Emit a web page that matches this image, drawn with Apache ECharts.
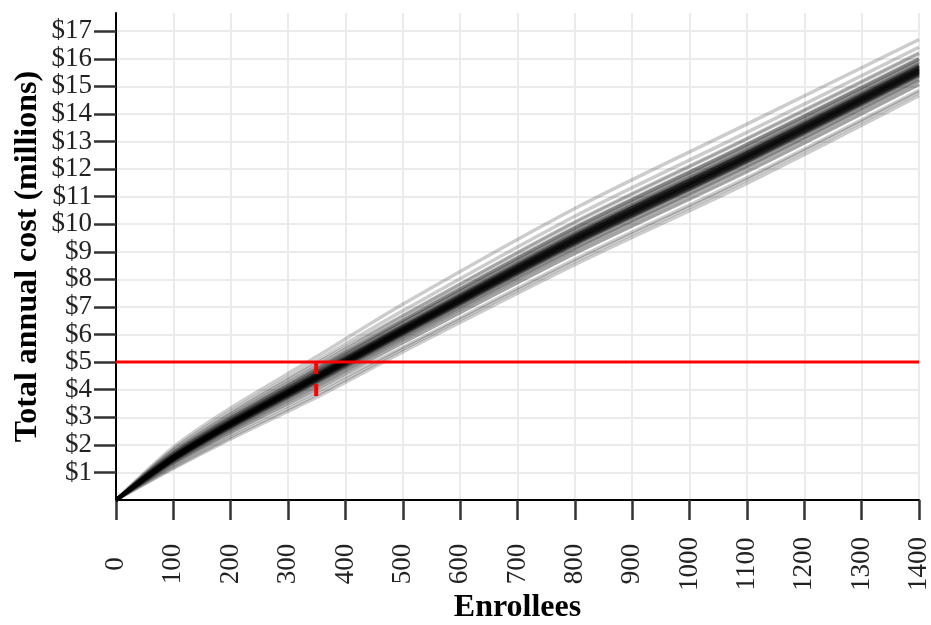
<!DOCTYPE html>
<html><head><meta charset="utf-8">
<script src="https://cdn.jsdelivr.net/npm/echarts@6/dist/echarts.min.js"></script>
<style>html,body{margin:0;padding:0;background:#fff}#c{width:931px;height:625px}</style>
</head><body><div id="c"></div>
<script>
// Enrollee counts at which each simulated cost curve is sampled
const enrollees = [0, 100, 200, 350, 500, 800, 1100, 1400];
// Simulated total annual cost ($ millions), one array per simulation
const simulations = [
  [0, 1.52, 2.76, 4.45, 6.15, 9.45, 12.45, 15.58],
  [0, 1.54, 2.78, 4.48, 6.17, 9.47, 12.47, 15.60],
  [0, 1.50, 2.74, 4.42, 6.13, 9.43, 12.43, 15.56],
  [0, 1.55, 2.81, 4.51, 6.24, 9.55, 12.56, 15.68],
  [0, 1.49, 2.71, 4.39, 6.10, 9.39, 12.39, 15.52],
  [0, 1.57, 2.83, 4.54, 6.22, 9.53, 12.53, 15.66],
  [0, 1.47, 2.69, 4.36, 6.03, 9.31, 12.30, 15.44],
  [0, 1.58, 2.85, 4.57, 6.30, 9.63, 12.64, 15.76],
  [0, 1.46, 2.67, 4.33, 6.05, 9.33, 12.32, 15.46],
  [0, 1.60, 2.88, 4.60, 6.35, 9.69, 12.70, 15.82],
  [0, 1.44, 2.65, 4.30, 5.95, 9.21, 12.20, 15.34],
  [0, 1.62, 2.90, 4.63, 6.32, 9.65, 12.66, 15.78],
  [0, 1.42, 2.62, 4.27, 5.98, 9.25, 12.24, 15.38],
  [0, 1.63, 2.92, 4.66, 6.42, 9.77, 12.79, 15.90],
  [0, 1.41, 2.60, 4.24, 5.88, 9.13, 12.11, 15.26],
  [0, 1.66, 2.96, 4.71, 6.41, 9.75, 12.77, 15.88],
  [0, 1.38, 2.56, 4.20, 5.83, 9.07, 12.05, 15.20],
  [0, 1.68, 2.99, 4.75, 6.52, 9.89, 12.91, 16.02],
  [0, 1.36, 2.53, 4.15, 5.84, 9.09, 12.07, 15.22],
  [0, 1.71, 3.04, 4.81, 6.53, 9.88, 12.90, 16.00],
  [0, 1.33, 2.48, 4.09, 5.71, 8.93, 11.90, 15.06],
  [0, 1.74, 3.08, 4.87, 6.66, 10.05, 13.08, 16.18],
  [0, 1.30, 2.44, 4.03, 5.70, 8.95, 11.92, 15.08],
  [0, 1.79, 3.15, 4.96, 6.69, 10.09, 13.12, 16.22],
  [0, 1.25, 2.37, 3.94, 5.54, 8.73, 11.69, 14.86],
  [0, 1.84, 3.22, 5.05, 6.86, 10.29, 13.33, 16.42],
  [0, 1.18, 2.28, 3.82, 5.47, 8.65, 11.61, 14.78],
  [0, 1.92, 3.34, 5.20, 7.10, 10.57, 13.63, 16.70],
  [0, 1.14, 2.21, 3.73, 5.37, 8.53, 11.48, 14.66],
  [0, 1.53, 2.77, 4.47, 6.18, 9.49, 12.49, 15.62],
  [0, 1.51, 2.75, 4.43, 6.12, 9.41, 12.41, 15.54],
  [0, 1.54, 2.80, 4.50, 6.18, 9.49, 12.49, 15.62],
  [0, 1.50, 2.73, 4.41, 6.08, 9.37, 12.37, 15.50],
  [0, 1.56, 2.82, 4.53, 6.27, 9.59, 12.60, 15.72],
  [0, 1.48, 2.70, 4.38, 6.08, 9.37, 12.36, 15.49],
  [0, 1.58, 2.84, 4.56, 6.25, 9.57, 12.58, 15.70],
  [0, 1.46, 2.68, 4.35, 6.01, 9.29, 12.28, 15.42],
  [0, 1.61, 2.89, 4.62, 6.29, 9.62, 12.63, 15.75],
  [0, 1.43, 2.63, 4.29, 6.00, 9.27, 12.26, 15.40],
  [0, 1.66, 2.97, 4.72, 6.49, 9.85, 12.87, 15.98],
  [0, 1.53, 2.77, 4.47, 6.13, 9.43, 12.43, 15.56],
  [0, 1.51, 2.75, 4.43, 6.17, 9.47, 12.47, 15.60],
  [0, 1.54, 2.78, 4.48, 6.20, 9.51, 12.51, 15.64],
  [0, 1.50, 2.74, 4.42, 6.10, 9.39, 12.39, 15.52],
  [0, 1.55, 2.81, 4.51, 6.18, 9.49, 12.49, 15.62],
  [0, 1.49, 2.71, 4.39, 6.07, 9.35, 12.35, 15.48],
  [0, 1.57, 2.83, 4.54, 6.27, 9.59, 12.60, 15.72],
  [0, 1.47, 2.69, 4.36, 6.07, 9.35, 12.34, 15.48],
  [0, 1.52, 2.76, 4.45, 6.18, 9.49, 12.49, 15.62],
  [0, 1.52, 2.76, 4.45, 6.12, 9.41, 12.41, 15.54],
  [0, 1.58, 2.85, 4.57, 6.25, 9.57, 12.58, 15.70],
  [0, 1.46, 2.67, 4.33, 6.00, 9.27, 12.26, 15.40]
];
const xTickValues = [0,100,200,300,400,500,600,700,800,900,1000,1100,1200,1300,1400];
const yTickValues = [1,2,3,4,5,6,7,8,9,10,11,12,13,14,15,16,17];
const budgetLine = 5;             // $ millions
const budgetRange = [0, 1400];    // enrollees
const cutoffEnrollees = 349;
const cutoffRange = [5, 3.72];    // $ millions

const FONT = 'Liberation Serif';
const series = simulations.map(vals => ({
  type: 'line',
  data: enrollees.map((x, i) => [x, vals[i]]),
  showSymbol: false,
  smooth: 0.3,
  silent: true,
  lineStyle: { color: 'rgba(0,0,0,0.2)', width: 3.5 },
  emphasis: { disabled: true },
  z: 2
}));
series.push({
  type: 'line',
  data: budgetRange.map(x => [x, budgetLine]),
  showSymbol: false, silent: true,
  lineStyle: { color: '#ff0000', width: 3 },
  emphasis: { disabled: true }, z: 5
});
series.push({
  type: 'line',
  data: cutoffRange.map(y => [cutoffEnrollees, y]),
  showSymbol: false, silent: true,
  lineStyle: { color: '#ff0000', width: 4, type: [12, 10] },
  emphasis: { disabled: true }, z: 5
});

const chart = echarts.init(document.getElementById('c'), null, { renderer: 'canvas' });
chart.setOption({
  animation: false,
  backgroundColor: '#fff',
  grid: { left: 116, right: 12, top: 13, bottom: 125, containLabel: false, outerBoundsMode: 'none' },
  xAxis: {
    type: 'value', min: 0, max: 1400, interval: 100,
    name: 'Enrollees', nameLocation: 'middle', nameGap: 92, nameMoveOverlap: false,
    nameTextStyle: { fontFamily: FONT, fontSize: 32, fontWeight: 'bold', color: '#000' },
    axisLine: { show: true, onZero: false, lineStyle: { color: '#000', width: 2 } },
    axisTick: { show: true, length: 20, customValues: xTickValues, lineStyle: { color: '#333', width: 2.5 } },
    axisLabel: { rotate: 90, align: 'center', verticalAlign: 'middle', margin: 64,
      customValues: xTickValues, formatter: v => String(v),
      fontFamily: FONT, fontSize: 27, color: '#222' },
    splitLine: { show: true, lineStyle: { color: '#ebebeb', width: 2 } }
  },
  yAxis: {
    type: 'value', min: 0, max: 17.66, interval: 1,
    name: 'Total annual cost (millions)', nameLocation: 'middle', nameGap: 72, nameMoveOverlap: false,
    nameTextStyle: { fontFamily: FONT, fontSize: 32, fontWeight: 'bold', color: '#000' },
    axisLine: { show: true, onZero: false, lineStyle: { color: '#000', width: 2 } },
    axisTick: { show: true, length: 22, customValues: yTickValues, lineStyle: { color: '#333', width: 2.5 } },
    axisLabel: { margin: 24, customValues: yTickValues,
      formatter: v => '$' + v,
      fontFamily: FONT, fontSize: 27, color: '#222' },
    splitLine: { show: true, lineStyle: { color: '#ebebeb', width: 2 } }
  },
  series: series
});
</script>
</body></html>
